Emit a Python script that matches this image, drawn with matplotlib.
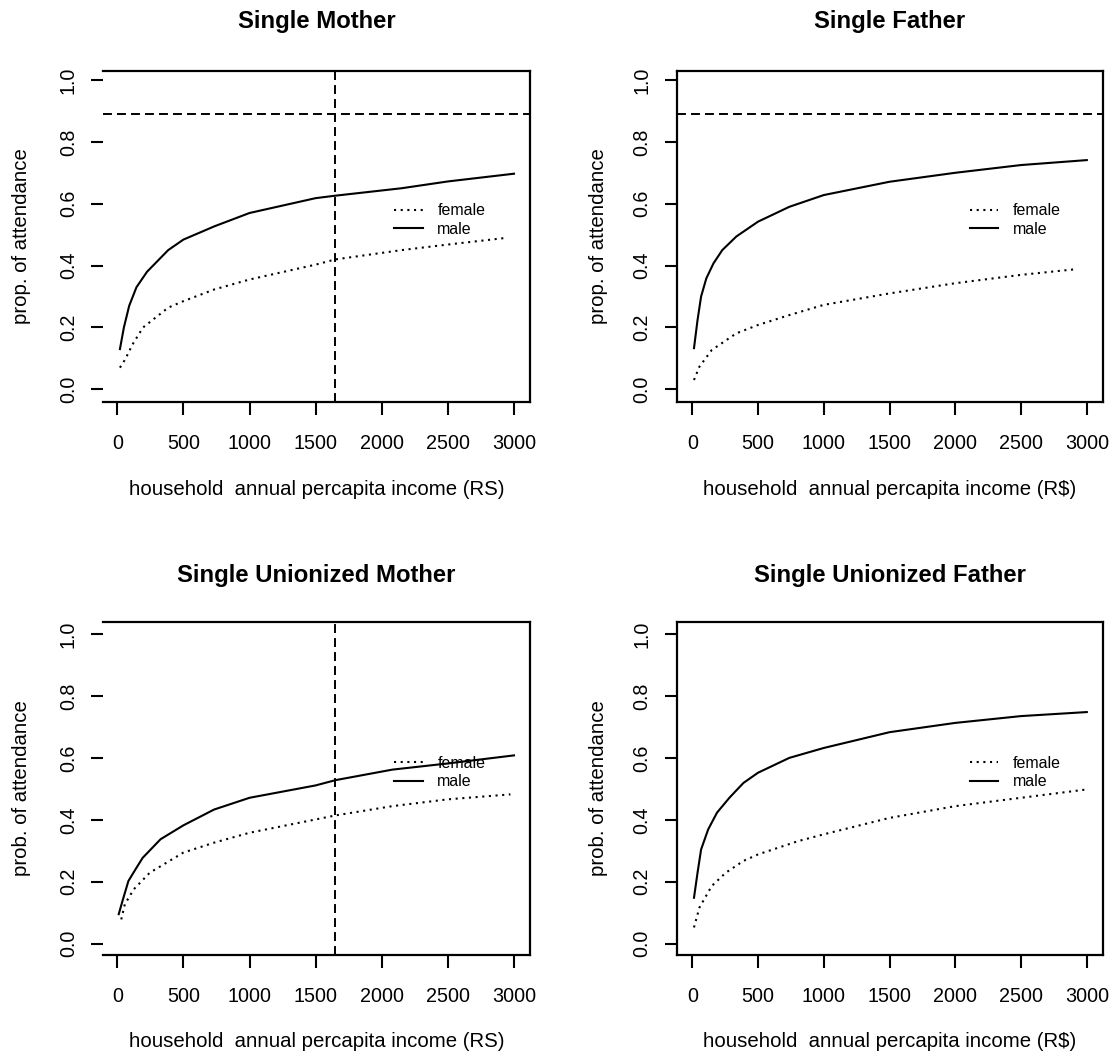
import matplotlib
matplotlib.use("Agg")
import matplotlib.pyplot as plt

plt.rcParams['font.family'] = ['Liberation Sans', 'DejaVu Sans']

# ---------------- data ----------------
titles = ["Single Mother", "Single Father", "Single Unionized Mother", "Single Unionized Father"]
xlabels = ["household  annual percapita income (RS)", "household  annual percapita income (R$)",
           "household  annual percapita income (RS)", "household  annual percapita income (R$)"]
ylabels = ["prop. of attendance", "prop. of attendance", "prob. of attendance", "prob. of attendance"]
legend_labels = ["female", "male"]

sm_male_x = [20, 50, 90, 145, 225, 385, 500, 735, 1000, 1500, 1650, 2150, 2500, 3000]
sm_male_y = [0.13, 0.20, 0.27, 0.33, 0.38, 0.45, 0.484, 0.527, 0.57, 0.618, 0.626, 0.65, 0.672, 0.697]
sm_female_x = [20, 60, 115, 195, 385, 500, 735, 1000, 1500, 1650, 2150, 2500, 2950]
sm_female_y = [0.07, 0.097, 0.145, 0.2, 0.264, 0.285, 0.323, 0.355, 0.403, 0.42, 0.45, 0.468, 0.49]

sf_male_x = [13, 40, 67, 107, 161, 228, 335, 500, 738, 1000, 1500, 2000, 2500, 3000]
sf_male_y = [0.133, 0.224, 0.30, 0.359, 0.407, 0.45, 0.494, 0.542, 0.59, 0.628, 0.671, 0.70, 0.725, 0.741]
sf_female_x = [13, 54, 148, 335, 500, 738, 1000, 1500, 2000, 2500, 2910]
sf_female_y = [0.03, 0.073, 0.127, 0.181, 0.208, 0.24, 0.273, 0.31, 0.343, 0.37, 0.388]

sum_male_x = [11, 43, 84, 138, 192, 327, 500, 732, 1000, 1500, 1650, 2080, 2500, 3000]
sum_male_y = [0.095, 0.143, 0.202, 0.24, 0.277, 0.337, 0.382, 0.433, 0.471, 0.511, 0.528, 0.562, 0.582, 0.608]
sum_female_x = [30, 57, 124, 246, 500, 732, 1000, 1500, 1650, 2080, 2500, 2973]
sum_female_y = [0.078, 0.127, 0.175, 0.229, 0.294, 0.326, 0.358, 0.401, 0.414, 0.444, 0.466, 0.482]

suf_male_x = [13, 40, 67, 121, 188, 282, 389, 500, 738, 1000, 1500, 2000, 2500, 3000]
suf_male_y = [0.148, 0.229, 0.304, 0.369, 0.423, 0.471, 0.519, 0.552, 0.60, 0.632, 0.683, 0.713, 0.735, 0.748]
suf_female_x = [13, 54, 148, 255, 389, 500, 805, 1000, 1500, 2000, 2500, 3000]
suf_female_y = [0.052, 0.116, 0.186, 0.229, 0.267, 0.288, 0.331, 0.353, 0.406, 0.444, 0.471, 0.498]

hline_y = [0.89, 0.89, None, None]
vline_x = [1650, None, 1650, None]

x_ticks = [0, 500, 1000, 1500, 2000, 2500, 3000]
y_ticks = [0.0, 0.2, 0.4, 0.6, 0.8, 1.0]
y_ticklabels = ["0.0", "0.2", "0.4", "0.6", "0.8", "1.0"]

panels = [
    (sm_female_x, sm_female_y, sm_male_x, sm_male_y),
    (sf_female_x, sf_female_y, sf_male_x, sf_male_y),
    (sum_female_x, sum_female_y, sum_male_x, sum_male_y),
    (suf_female_x, suf_female_y, suf_male_x, suf_male_y),
]

# ---------------- layout ----------------
fig = plt.figure(figsize=(11.14, 10.55), dpi=100)
W, H = 1114, 1055
boxes = [(103, 530, 70.7, 402.3), (676.5, 1102.6, 70.7, 402.3),
         (103, 530, 621.7, 955), (676.5, 1102.6, 621.7, 955)]
xlims = [(-108, 3121), (-120, 3120), (-108, 3121), (-120, 3120)]
ylims = [(-0.042, 1.03), (-0.042, 1.03), (-0.037, 1.04), (-0.037, 1.04)]
leg_x = [0.682, 0.688, 0.682, 0.688]
leg_y = [0.60, 0.60, 0.597, 0.597]
ylab_x = [-0.191, -0.182, -0.191, -0.182]
title_y = [1.147, 1.147, 1.14, 1.14]
xlab_y = [-0.264, -0.264, -0.26, -0.26]
hide_left = [True, False, True, False]

tick_fs = 14.2
lab_fs = 14.7
dash = (0, (4.6, 2.6))

for i in range(4):
    l, r, t, b = boxes[i]
    ax = fig.add_axes([l / W, (H - b) / H, (r - l) / W, (b - t) / H])
    fx, fy, mx, my = panels[i]
    ax.plot(fx, fy, color='black', lw=1.5, linestyle=(0, (1, 2.2)), label=legend_labels[0])
    ax.plot(mx, my, color='black', lw=1.5, linestyle='-', label=legend_labels[1])
    if hline_y[i] is not None:
        ax.axhline(hline_y[i], color='black', lw=1.4, linestyle=dash)
    if vline_x[i] is not None:
        ax.axvline(vline_x[i], color='black', lw=1.4, linestyle=dash)
    ax.set_xlim(*xlims[i])
    ax.set_ylim(*ylims[i])
    ax.set_xticks(x_ticks)
    ax.set_xticklabels([str(v) for v in x_ticks], fontsize=tick_fs)
    ax.set_yticks(y_ticks)
    ax.set_yticklabels(y_ticklabels, fontsize=tick_fs, rotation=90, va='center', ha='right')
    ax.tick_params(axis='x', length=9.4, width=1.5, pad=13.5)
    ax.tick_params(axis='y', length=8.6, width=1.5, pad=9.5)
    for s in ax.spines.values():
        s.set_linewidth(1.6)
    if hide_left[i]:
        ax.spines['left'].set_visible(False)
    ax.text(0.5, title_y[i], titles[i], transform=ax.transAxes, ha='center', va='center',
            fontsize=17.2, fontweight='bold')
    ax.text(0.5, xlab_y[i], xlabels[i], transform=ax.transAxes, ha='center', va='center',
            fontsize=lab_fs)
    ax.text(ylab_x[i], 0.5, ylabels[i], transform=ax.transAxes, ha='center', va='center',
            fontsize=lab_fs, rotation=90)
    ax.legend(loc='upper left', bbox_to_anchor=(leg_x[i], leg_y[i]), frameon=False,
              fontsize=11.5, borderpad=0, borderaxespad=0, handlelength=1.8,
              handletextpad=0.9, labelspacing=0.2)

fig.savefig("out.png", dpi=100)
